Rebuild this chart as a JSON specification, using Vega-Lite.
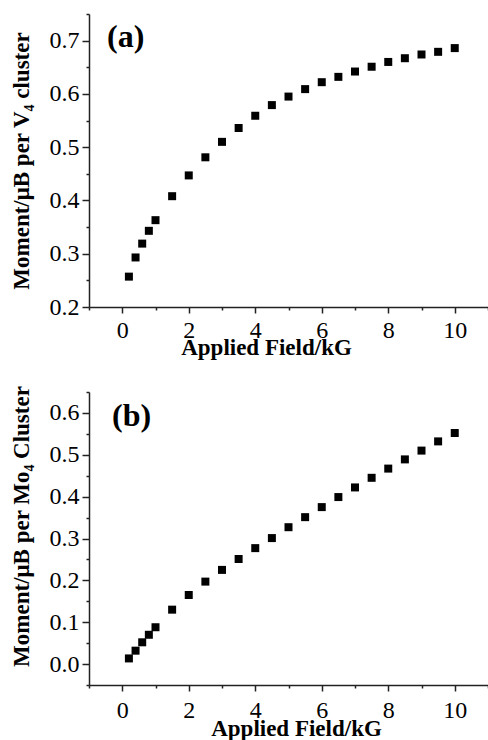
{
  "$schema": "https://vega.github.io/schema/vega-lite/v6.json",
  "padding": {"left": 9, "top": 2, "right": 1, "bottom": 0},
  "background": "white",
  "datasets": {
    "a": [
      {"field": 0.2, "moment": 0.257}, {"field": 0.4, "moment": 0.293}, {"field": 0.6, "moment": 0.319},
      {"field": 0.8, "moment": 0.343}, {"field": 1.0, "moment": 0.363}, {"field": 1.5, "moment": 0.408},
      {"field": 2.0, "moment": 0.447}, {"field": 2.5, "moment": 0.481}, {"field": 3.0, "moment": 0.510},
      {"field": 3.5, "moment": 0.536}, {"field": 4.0, "moment": 0.559}, {"field": 4.5, "moment": 0.579},
      {"field": 5.0, "moment": 0.595}, {"field": 5.5, "moment": 0.609}, {"field": 6.0, "moment": 0.622},
      {"field": 6.5, "moment": 0.632}, {"field": 7.0, "moment": 0.642}, {"field": 7.5, "moment": 0.651},
      {"field": 8.0, "moment": 0.660}, {"field": 8.5, "moment": 0.667}, {"field": 9.0, "moment": 0.674},
      {"field": 9.5, "moment": 0.679}, {"field": 10.0, "moment": 0.686}
    ],
    "b": [
      {"field": 0.2, "moment": 0.0135}, {"field": 0.4, "moment": 0.032}, {"field": 0.6, "moment": 0.052},
      {"field": 0.8, "moment": 0.070}, {"field": 1.0, "moment": 0.088}, {"field": 1.5, "moment": 0.130},
      {"field": 2.0, "moment": 0.165}, {"field": 2.5, "moment": 0.197}, {"field": 3.0, "moment": 0.225},
      {"field": 3.5, "moment": 0.251}, {"field": 4.0, "moment": 0.277}, {"field": 4.5, "moment": 0.301},
      {"field": 5.0, "moment": 0.327}, {"field": 5.5, "moment": 0.351}, {"field": 6.0, "moment": 0.375},
      {"field": 6.5, "moment": 0.399}, {"field": 7.0, "moment": 0.422}, {"field": 7.5, "moment": 0.445},
      {"field": 8.0, "moment": 0.467}, {"field": 8.5, "moment": 0.489}, {"field": 9.0, "moment": 0.510},
      {"field": 9.5, "moment": 0.532}, {"field": 10.0, "moment": 0.552}
    ]
  },
  "vconcat": [
    {
      "width": 399,
      "height": 293,
      "data": {"name": "a"},
      "title": {"text": "(a)", "anchor": "start", "frame": "group", "orient": "top", "baseline": "top", "offset": -44, "dx": 18, "dy": 8, "font": "Liberation Serif", "fontSize": 32, "fontWeight": "bold", "color": "#000"},
      "mark": {"type": "square", "size": 64, "color": "#000", "opacity": 1},
      "encoding": {
        "x": {
          "field": "field", "type": "quantitative",
          "scale": {"domain": [-1, 11], "nice": false, "zero": false},
          "axis": {
            "title": "Applied Field/kG",
            "values": [-1, 0, 1, 2, 3, 4, 5, 6, 7, 8, 9, 10, 11],
            "labelExpr": "datum.value % 2 === 0 ? datum.label : ''",
            "tickSize": {"condition": {"test": "datum.value % 2 !== 0", "value": 3}, "value": 6},
            "labelPadding": 5,
            "titleX": 177,
            "titlePadding": -6
          }
        },
        "y": {
          "field": "moment", "type": "quantitative",
          "scale": {"domain": [0.2, 0.75], "nice": false, "zero": false},
          "axis": {
            "title": "Moment/μB per V₄ cluster",
            "values": [0.2, 0.25, 0.3, 0.35, 0.4, 0.45, 0.5, 0.55, 0.6, 0.65, 0.7, 0.75],
            "format": ".1f",
            "labelExpr": "round(datum.value * 100) % 10 === 0 ? datum.label : ''",
            "tickSize": {"condition": {"test": "round(datum.value * 100) % 10 !== 0", "value": 3}, "value": 7},
            "titlePadding": 16
          }
        }
      }
    },
    {
      "width": 399,
      "height": 293,
      "data": {"name": "b"},
      "title": {"text": "(b)", "anchor": "start", "frame": "group", "orient": "top", "baseline": "top", "offset": -47, "dx": 23, "dy": 6, "font": "Liberation Serif", "fontSize": 32, "fontWeight": "bold", "color": "#000"},
      "mark": {"type": "square", "size": 64, "color": "#000", "opacity": 1},
      "encoding": {
        "x": {
          "field": "field", "type": "quantitative",
          "scale": {"domain": [-1, 11], "nice": false, "zero": false},
          "axis": {
            "title": "Applied Field/kG",
            "values": [-1, 0, 1, 2, 3, 4, 5, 6, 7, 8, 9, 10, 11],
            "labelExpr": "datum.value % 2 === 0 ? datum.label : ''",
            "tickSize": {"condition": {"test": "datum.value % 2 !== 0", "value": 3}, "value": 6},
            "labelPadding": 7,
            "titleX": 207,
            "titlePadding": -5
          }
        },
        "y": {
          "field": "moment", "type": "quantitative",
          "scale": {"domain": [-0.05, 0.65], "nice": false, "zero": false},
          "axis": {
            "title": "Moment/μB per Mo₄ Cluster",
            "values": [-0.05, 0, 0.05, 0.1, 0.15, 0.2, 0.25, 0.3, 0.35, 0.4, 0.45, 0.5, 0.55, 0.6, 0.65],
            "format": ".1f",
            "labelExpr": "round(datum.value * 100) % 10 === 0 ? datum.label : ''",
            "tickSize": {"condition": {"test": "round(datum.value * 100) % 10 !== 0", "value": 3}, "value": 7},
            "titleY": 134,
            "titlePadding": 16
          }
        }
      }
    }
  ],
  "spacing": 85,
  "bounds": "flush",
  "config": {
    "view": {"stroke": null},
    "axis": {
      "grid": false,
      "labelFont": "Liberation Serif",
      "labelFontSize": 24,
      "labelColor": "#000",
      "labelFlush": false,
      "labelOverlap": false,
      "titleFont": "Liberation Serif",
      "titleFontSize": 23,
      "titleFontWeight": "bold",
      "titleColor": "#000",
      "domainColor": "#222",
      "domainWidth": 1.5,
      "tickColor": "#222",
      "tickWidth": 1.5,
      "labelPadding": 3
    }
  }
}
